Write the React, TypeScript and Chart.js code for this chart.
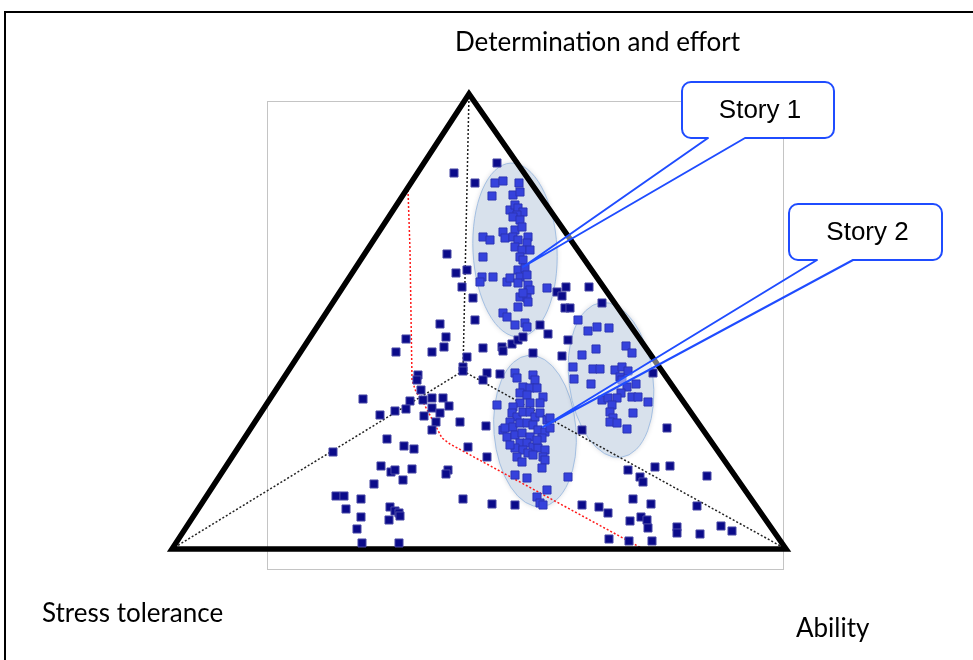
import { useEffect, useRef } from 'react';
import { Chart, registerables } from 'chart.js';
Chart.register(...registerables);

// Triangle vertices: Stress tolerance (left), Determination and effort (apex), Ability (right)
const triangleX = [172, 469, 786, 172, 469];
const triangleY = [549, 94, 549, 549, 94];

// Centre of the ternary plot and its three spokes
const centreXY = [463, 371];
const spokeEndX = [469, 172, 786];
const spokeEndY = [94, 549, 549];

// Red boundary (dotted)
const boundaryX = [408, 410, 412, 416, 423, 442, 450, 645];
const boundaryY = [190, 250, 380, 392, 402, 438, 444, 550];

// Clusters (ellipses): centre, half-width, half-height, tilt (rad)
const clusterCx = [515, 535, 611];
const clusterCy = [250, 431, 380];
const clusterRx = [42, 41, 42];
const clusterRy = [87, 76, 78];
const clusterTilt = [-0.05, -0.085, -0.13];

const axisLabels = ['Determination and effort', 'Stress tolerance', 'Ability'];
const storyLabels = ['Story 1', 'Story 2'];
const storyTipX = [523, 543];
const storyTipY = [267, 427];

const otherPoints = [
  [497, 163], [454, 173], [475, 183], [447, 254], [456, 273], [467, 270], [462, 287], [473, 298], [475, 320],
  [557, 292], [562, 296], [566, 287], [565, 308], [570, 308],
  [540, 325], [548, 334], [512, 344], [518, 340], [523, 337],
  [483, 348], [502, 347], [503, 351], [533, 353], [562, 356], [487, 373], [483, 380], [500, 374],
  [467, 357], [463, 367], [463, 371], [486, 426], [460, 422], [468, 447], [487, 457],
  [492, 504], [515, 505], [582, 505], [582, 430], [463, 499],
  [589, 287], [602, 303], [568, 340], [653, 373], [667, 428],
  [628, 470], [655, 467], [670, 466], [640, 477], [643, 482], [707, 476], [633, 499], [651, 504],
  [697, 506], [599, 507], [608, 513], [630, 521], [641, 517], [647, 520], [648, 528], [677, 527],
  [677, 533], [700, 534], [721, 526], [732, 531], [609, 539], [629, 541], [652, 541],
  [440, 324], [446, 337], [406, 339], [444, 347], [396, 352], [432, 352], [418, 375], [417, 380],
  [421, 390], [363, 399], [410, 401], [423, 400], [432, 398], [443, 398], [449, 406], [432, 408],
  [395, 411], [406, 409], [440, 413], [380, 415], [424, 416], [436, 422], [432, 430], [387, 439],
  [404, 446], [414, 449], [333, 452], [381, 466], [391, 472], [395, 470], [412, 469], [448, 470],
  [446, 474], [403, 480], [374, 484], [336, 496], [344, 496], [361, 499], [346, 509], [390, 507],
  [395, 511], [399, 513], [400, 516], [361, 517], [389, 520], [357, 529], [362, 543], [399, 543],
];

const storyOnePoints = [
  [495, 183], [503, 181], [519, 183], [492, 196], [513, 195], [520, 192],
  [510, 210], [515, 205], [518, 208], [523, 212], [517, 215], [513, 217], [520, 220],
  [503, 232], [505, 238], [515, 230], [522, 227], [513, 237], [518, 240], [528, 237], [527, 243],
  [515, 247], [522, 250], [530, 250], [520, 257], [523, 260], [483, 237], [490, 240], [483, 257],
  [482, 277], [480, 282], [493, 277], [507, 282], [510, 278], [518, 270], [525, 268], [520, 277], [527, 275],
  [518, 283], [528, 285], [530, 290], [520, 297], [527, 298], [528, 302], [523, 293], [547, 288],
  [518, 307], [503, 313], [507, 317], [515, 325], [525, 323], [527, 327],
];

const storyTwoPoints = [
  [515, 373], [517, 378], [533, 375], [535, 380], [497, 405], [503, 430],
  [523, 387], [530, 388], [520, 393], [527, 395], [537, 388], [543, 397], [540, 403], [530, 403],
  [520, 403], [513, 407], [512, 413], [517, 417], [523, 412], [530, 412], [535, 417], [540, 413],
  [547, 420], [550, 418], [510, 422], [505, 428], [513, 427], [520, 423], [527, 423], [533, 425],
  [538, 430], [545, 432], [550, 428], [507, 437], [515, 435], [522, 433], [530, 437], [520, 443],
  [527, 443], [533, 447], [538, 448], [545, 450], [515, 448], [523, 450], [510, 445], [517, 457],
  [522, 462], [528, 453], [533, 455], [543, 457], [542, 438], [537, 440],
  [545, 460], [568, 477], [515, 475], [527, 478], [547, 490], [537, 497], [540, 503], [543, 505], [542, 468],
];

const clusterThreePoints = [
  [578, 320], [588, 331], [597, 327], [609, 328], [596, 349], [582, 355], [626, 346], [632, 353],
  [573, 367], [593, 369], [600, 369], [615, 370], [622, 367], [628, 371], [574, 379], [591, 384],
  [620, 377], [622, 380], [636, 384], [627, 387], [621, 393], [602, 400], [608, 398], [617, 398],
  [632, 397], [638, 397], [648, 402], [612, 405], [610, 412], [633, 413], [613, 418], [610, 422],
  [617, 423], [627, 429],
];

const toXY = (pts: number[][]) => pts.map(([x, y]) => ({ x, y }));
const zipXY = (xs: number[], ys: number[]) => xs.map((x, i) => ({ x, y: ys[i] }));

export default function App() {
  const ref = useRef<HTMLCanvasElement>(null);

  useEffect(() => {
    document.body.style.margin = '0';
    const canvas = ref.current!;

    const decor = {
      id: 'decor',
      beforeDatasetsDraw(chart: any) {
        const { ctx } = chart;
        const xs = chart.scales.x;
        const ys = chart.scales.y;
        const px = (v: number) => xs.getPixelForValue(v);
        const py = (v: number) => ys.getPixelForValue(v);
        ctx.save();
        ctx.strokeStyle = '#000';
        ctx.lineWidth = 2;
        ctx.strokeRect(px(5), py(12), px(990) - px(5), py(680) - py(12));
        ctx.strokeStyle = '#c4c4c4';
        ctx.lineWidth = 1;
        ctx.strokeRect(px(267) + 0.5, py(101) + 0.5, px(783) - px(267), py(569) - py(101));
        for (let i = 0; i < clusterCx.length; i++) {
          const cx = px(clusterCx[i]);
          const cy = py(clusterCy[i]);
          const rx = Math.abs(px(clusterCx[i] + clusterRx[i]) - cx);
          const ry = Math.abs(py(clusterCy[i] + clusterRy[i]) - cy);
          ctx.save();
          ctx.shadowColor = 'rgba(60,70,90,0.22)';
          ctx.shadowBlur = 5;
          ctx.beginPath();
          ctx.ellipse(cx, cy, rx, ry, clusterTilt[i], 0, Math.PI * 2);
          ctx.fillStyle = '#d8e1ec';
          ctx.fill();
          ctx.restore();
          ctx.beginPath();
          ctx.ellipse(cx, cy, rx, ry, clusterTilt[i], 0, Math.PI * 2);
          ctx.strokeStyle = '#a3bfe2';
          ctx.lineWidth = 1;
          ctx.stroke();
        }
        ctx.restore();
      },
      afterDatasetsDraw(chart: any) {
        const { ctx } = chart;
        const xs = chart.scales.x;
        const ys = chart.scales.y;
        const px = (v: number) => xs.getPixelForValue(v);
        const py = (v: number) => ys.getPixelForValue(v);
        ctx.save();
        const boxes = [
          { l: 682, t: 82, r: 834, b: 138, b1: 708, b2: 745 },
          { l: 789, t: 204, r: 942, b: 260, b1: 817, b2: 853 },
        ];
        boxes.forEach((bx, i) => {
          const L = px(bx.l), T = py(bx.t), R = px(bx.r), B = py(bx.b);
          const B1 = px(bx.b1), B2 = px(bx.b2);
          const tx = px(storyTipX[i]), ty = py(storyTipY[i]);
          const rad = 9;
          ctx.beginPath();
          ctx.moveTo(B1, B);
          ctx.lineTo(tx, ty);
          ctx.lineTo(B2, B);
          ctx.closePath();
          ctx.fillStyle = 'rgba(255,255,255,0.45)';
          ctx.fill();
          ctx.beginPath();
          ctx.roundRect(L, T, R - L, B - T, rad);
          ctx.fillStyle = '#fff';
          ctx.fill();
          ctx.beginPath();
          ctx.moveTo(L + rad, T);
          ctx.lineTo(R - rad, T);
          ctx.arcTo(R, T, R, T + rad, rad);
          ctx.lineTo(R, B - rad);
          ctx.arcTo(R, B, R - rad, B, rad);
          ctx.lineTo(B2, B);
          ctx.lineTo(tx, ty);
          ctx.lineTo(B1, B);
          ctx.lineTo(L + rad, B);
          ctx.arcTo(L, B, L, B - rad, rad);
          ctx.lineTo(L, T + rad);
          ctx.arcTo(L, T, L + rad, T, rad);
          ctx.closePath();
          ctx.strokeStyle = '#1f4cff';
          ctx.lineWidth = 2;
          ctx.lineJoin = 'round';
          ctx.stroke();
          ctx.fillStyle = '#000';
          ctx.font = '26px "Liberation Sans", Arial, sans-serif';
          ctx.textAlign = 'center';
          ctx.textBaseline = 'middle';
          ctx.fillText(storyLabels[i], (L + R) / 2 + 2, (T + B) / 2 + 1);
        });
        ctx.fillStyle = '#000';
        ctx.font = '26px Lato, "Open Sans", sans-serif';
        ctx.textAlign = 'left';
        ctx.textBaseline = 'middle';
        ctx.fillText(axisLabels[0], px(455), py(43));
        ctx.fillText(axisLabels[1], px(42), py(614));
        ctx.fillText(axisLabels[2], px(796), py(629));
        ctx.restore();
      },
    };

    const spokes = spokeEndX.map((ex, i) => ({
      type: 'scatter' as const,
      data: [{ x: centreXY[0], y: centreXY[1] }, { x: ex, y: spokeEndY[i] }],
      showLine: true,
      borderColor: '#222',
      borderWidth: 1.5,
      borderDash: [2, 2],
      pointRadius: 0,
      order: 6,
    }));

    const pointStyleBase = {
      pointStyle: 'rect' as const,
      pointRadius: 5.7,
      pointHoverRadius: 5.7,
      borderWidth: 1,
      order: 1,
    };

    const chart = new Chart(canvas, {
      type: 'scatter',
      data: {
        datasets: [
          ...spokes,
          {
            data: zipXY(boundaryX, boundaryY),
            showLine: true,
            borderColor: '#ff1a1a',
            borderWidth: 1.5,
            borderDash: [2, 2],
            pointRadius: 0,
            order: 6,
          },
          {
            data: zipXY(triangleX, triangleY),
            showLine: true,
            borderColor: '#000',
            borderWidth: 5.5,
            borderJoinStyle: 'miter',
            pointRadius: 0,
            order: 5,
          },
          {
            data: toXY(otherPoints),
            backgroundColor: '#0b0b8a',
            borderColor: '#4a4aa6',
            ...pointStyleBase,
          },
          {
            data: toXY(storyOnePoints),
            backgroundColor: '#3542dc',
            borderColor: '#2c34b4',
            ...pointStyleBase,
          },
          {
            data: toXY(storyTwoPoints),
            backgroundColor: '#3542dc',
            borderColor: '#2c34b4',
            ...pointStyleBase,
          },
          {
            data: toXY(clusterThreePoints),
            backgroundColor: '#3542dc',
            borderColor: '#2c34b4',
            ...pointStyleBase,
          },
        ] as any,
      },
      options: {
        animation: false,
        responsive: false,
        maintainAspectRatio: false,
        events: [],
        layout: { padding: 0, autoPadding: false },
        plugins: { legend: { display: false }, tooltip: { enabled: false } },
        scales: {
          x: { type: 'linear', min: 0, max: 973, display: false },
          y: { type: 'linear', min: 0, max: 660, reverse: true, display: false },
        },
      },
      plugins: [decor],
    });
    return () => chart.destroy();
  }, []);

  return <canvas ref={ref} width={973} height={660} style={{ display: 'block' }} />;
}
